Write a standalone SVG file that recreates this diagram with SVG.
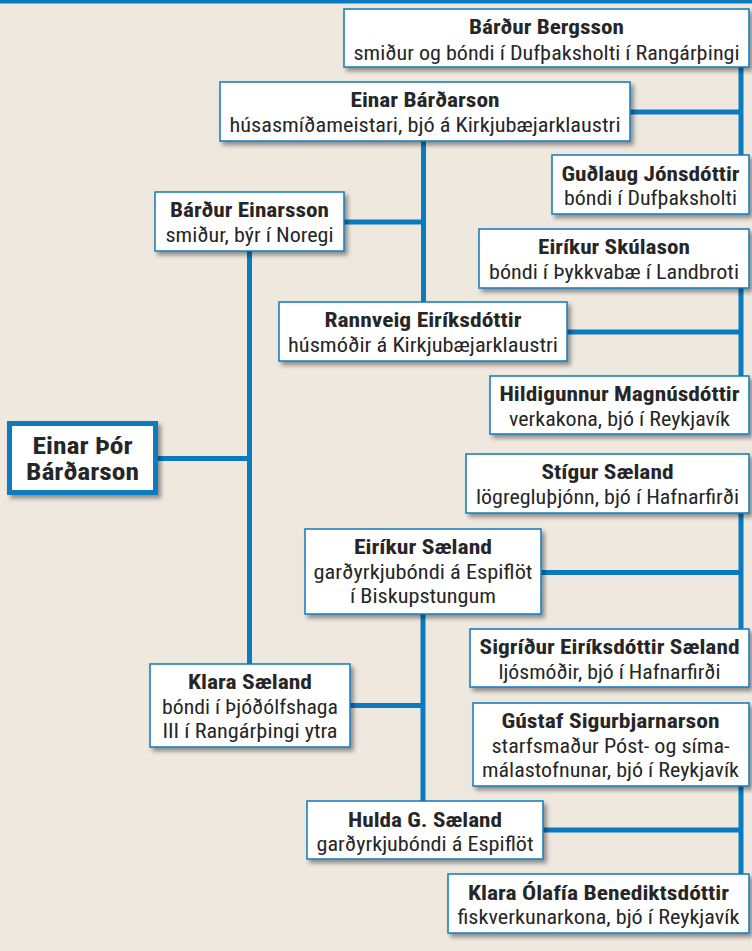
<svg xmlns="http://www.w3.org/2000/svg" width="752" height="951" viewBox="0 0 752 951">
<defs>
<filter id="sh" x="-10%" y="-10%" width="130%" height="140%">
<feDropShadow dx="3" dy="3.5" stdDeviation="2" flood-color="#000" flood-opacity="0.4"/>
</filter>
</defs>
<style>
.bg{fill:#efe8df}
.bar{fill:#0b7bbf}
.ln{stroke:#0b7bbf;stroke-width:5;fill:none}
.box{fill:#fff;stroke:#0b7bbf;stroke-width:1.5;filter:url(#sh)}
.boxm{fill:#fff;stroke:#0b7bbf;stroke-width:5;filter:url(#sh)}
text{font-family:"Roboto Condensed","DejaVu Sans Condensed","Liberation Sans Narrow",Roboto,sans-serif;fill:#262626;text-anchor:middle;font-size:20px}
.b{font-weight:bold}
.m{font-weight:bold;font-size:24px}
</style>
<rect class="bg" x="0" y="0" width="752" height="951"/>
<rect class="bar" x="0" y="0" width="752" height="3.5"/>
<g id="connectors">
<path class="ln" d="M741,67V155M630,112H741"/>
<path class="ln" d="M423.5,141V302M344,222H423.5"/>
<path class="ln" d="M741,288V376M567,332H741"/>
<path class="ln" d="M249.5,251V664M158,458.5H249.5"/>
<path class="ln" d="M741,513V629M541,572.5H741"/>
<path class="ln" d="M423,614V801M350,705.5H423"/>
<path class="ln" d="M741,786V874M543,830H741"/>
</g>
<g id="bardur-bergsson">
<rect class="box" x="344" y="9" width="405" height="58"/>
<text class="b" x="546.5" y="34" textLength="155" lengthAdjust="spacingAndGlyphs">Bárður Bergsson</text>
<text x="546.5" y="59.5" textLength="386" lengthAdjust="spacingAndGlyphs">smiður og bóndi í Dufþaksholti í Rangárþingi</text>
</g>
<g id="einar-bardarson">
<rect class="box" x="220" y="82" width="410" height="59"/>
<text class="b" x="425" y="107" textLength="149" lengthAdjust="spacingAndGlyphs">Einar Bárðarson</text>
<text x="425" y="131.5" textLength="391" lengthAdjust="spacingAndGlyphs">húsasmíðameistari, bjó á Kirkjubæjarklaustri</text>
</g>
<g id="gudlaug-jonsdottir">
<rect class="box" x="552" y="155" width="197" height="59"/>
<text class="b" x="650.5" y="180.5" textLength="178" lengthAdjust="spacingAndGlyphs">Guðlaug Jónsdóttir</text>
<text x="650.5" y="204.5" textLength="173" lengthAdjust="spacingAndGlyphs">bóndi í Dufþaksholti</text>
</g>
<g id="bardur-einarsson">
<rect class="box" x="155" y="192" width="189" height="59"/>
<text class="b" x="249.5" y="217" textLength="159" lengthAdjust="spacingAndGlyphs">Bárður Einarsson</text>
<text x="249.5" y="241.5" textLength="168" lengthAdjust="spacingAndGlyphs">smiður, býr í Noregi</text>
</g>
<g id="eirikur-skulason">
<rect class="box" x="479" y="229" width="270" height="59"/>
<text class="b" x="614" y="254" textLength="152" lengthAdjust="spacingAndGlyphs">Eiríkur Skúlason</text>
<text x="614" y="278.5" textLength="250" lengthAdjust="spacingAndGlyphs">bóndi í Þykkvabæ í Landbroti</text>
</g>
<g id="rannveig-eiriksdottir">
<rect class="box" x="279" y="302" width="288" height="59"/>
<text class="b" x="423" y="327" textLength="197" lengthAdjust="spacingAndGlyphs">Rannveig Eiríksdóttir</text>
<text x="423" y="351.5" textLength="270" lengthAdjust="spacingAndGlyphs">húsmóðir á Kirkjubæjarklaustri</text>
</g>
<g id="hildigunnur-magnusdottir">
<rect class="box" x="490" y="376" width="259" height="58"/>
<text class="b" x="619.5" y="401" textLength="240" lengthAdjust="spacingAndGlyphs">Hildigunnur Magnúsdóttir</text>
<text x="619.5" y="425.5" textLength="221" lengthAdjust="spacingAndGlyphs">verkakona, bjó í Reykjavík</text>
</g>
<g id="einar-thor-bardarson">
<rect class="boxm" x="9.5" y="423.5" width="146" height="69"/>
<text class="m" x="82.5" y="454" textLength="100" lengthAdjust="spacingAndGlyphs">Einar Þór</text>
<text class="m" x="82.5" y="480" textLength="113" lengthAdjust="spacingAndGlyphs">Bárðarson</text>
</g>
<g id="stigur-saeland">
<rect class="box" x="466" y="454" width="283" height="59"/>
<text class="b" x="607.5" y="479" textLength="132" lengthAdjust="spacingAndGlyphs">Stígur Sæland</text>
<text x="607.5" y="503.5" textLength="263" lengthAdjust="spacingAndGlyphs">lögregluþjónn, bjó í Hafnarfirði</text>
</g>
<g id="eirikur-saeland">
<rect class="box" x="305" y="529" width="236" height="85"/>
<text class="b" x="423" y="554" textLength="138" lengthAdjust="spacingAndGlyphs">Eiríkur Sæland</text>
<text x="423" y="578.5" textLength="219" lengthAdjust="spacingAndGlyphs">garðyrkjubóndi á Espiflöt</text>
<text x="423" y="603" textLength="146" lengthAdjust="spacingAndGlyphs">í Biskupstungum</text>
</g>
<g id="sigridur-eiriksdottir-saeland">
<rect class="box" x="470" y="629" width="279" height="58"/>
<text class="b" x="609.5" y="654" textLength="260" lengthAdjust="spacingAndGlyphs">Sigríður Eiríksdóttir Sæland</text>
<text x="609.5" y="678.5" textLength="222" lengthAdjust="spacingAndGlyphs">ljósmóðir, bjó í Hafnarfirði</text>
</g>
<g id="klara-saeland">
<rect class="box" x="150" y="664" width="200" height="83"/>
<text class="b" x="250" y="689" textLength="124" lengthAdjust="spacingAndGlyphs">Klara Sæland</text>
<text x="250" y="713.5" textLength="176" lengthAdjust="spacingAndGlyphs">bóndi í Þjóðólfshaga</text>
<text x="250" y="738" textLength="175" lengthAdjust="spacingAndGlyphs">III í Rangárþingi ytra</text>
</g>
<g id="gustaf-sigurbjarnarson">
<rect class="box" x="473" y="703" width="276" height="83"/>
<text class="b" x="610.5" y="728" textLength="218" lengthAdjust="spacingAndGlyphs">Gústaf Sigurbjarnarson</text>
<text x="610.5" y="752.5" textLength="238" lengthAdjust="spacingAndGlyphs">starfsmaður Póst- og síma-</text>
<text x="610.5" y="777" textLength="257" lengthAdjust="spacingAndGlyphs">málastofnunar, bjó í Reykjavík</text>
</g>
<g id="hulda-g-saeland">
<rect class="box" x="307" y="801" width="236" height="58"/>
<text class="b" x="425" y="826.5" textLength="154" lengthAdjust="spacingAndGlyphs">Hulda G. Sæland</text>
<text x="425" y="850.5" textLength="217" lengthAdjust="spacingAndGlyphs">garðyrkjubóndi á Espiflöt</text>
</g>
<g id="klara-olafia-benediktsdottir">
<rect class="box" x="448" y="874" width="301" height="59"/>
<text class="b" x="598.5" y="899.5" textLength="261" lengthAdjust="spacingAndGlyphs">Klara Ólafía Benediktsdóttir</text>
<text x="598.5" y="923.5" textLength="282" lengthAdjust="spacingAndGlyphs">fiskverkunarkona, bjó í Reykjavík</text>
</g>
</svg>
